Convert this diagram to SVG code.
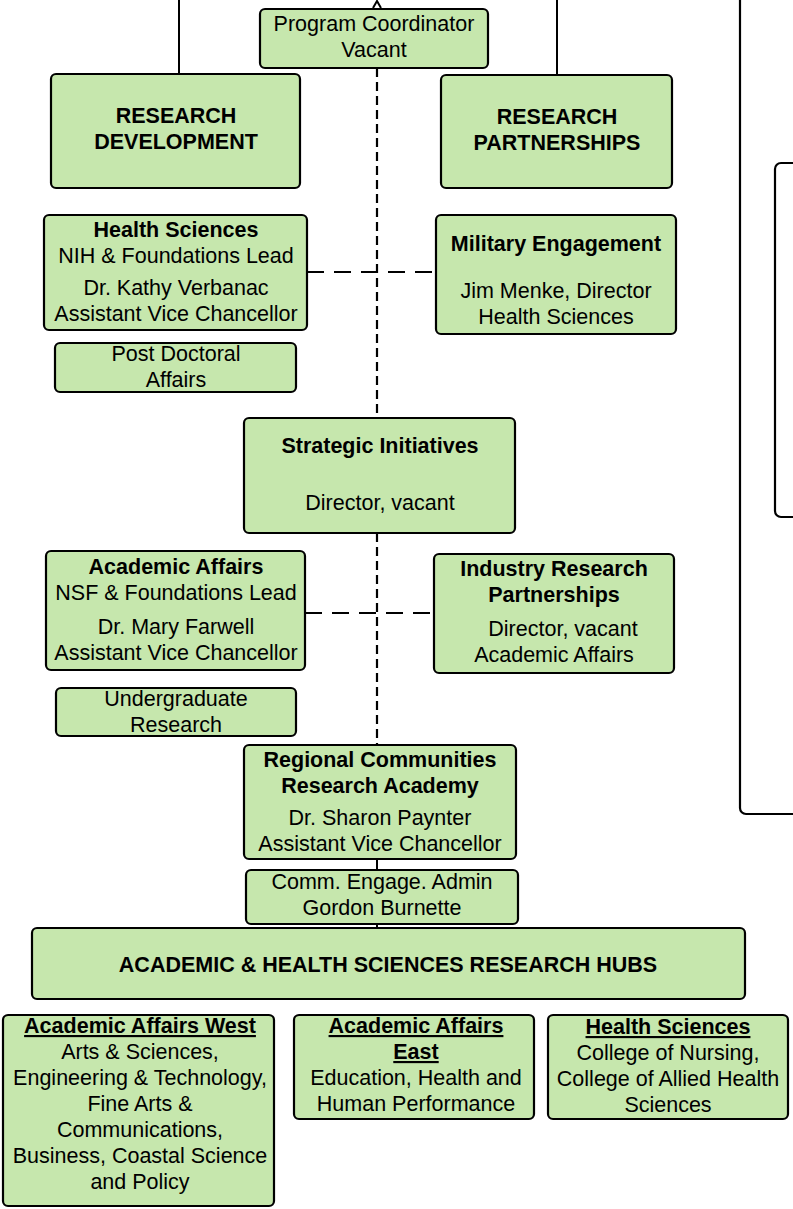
<svg xmlns="http://www.w3.org/2000/svg" width="793" height="1209" viewBox="0 0 793 1209">
<style>
.box{fill:#c6e7ad;stroke:#000;stroke-width:2.2}
.frame{fill:none;stroke:#000;stroke-width:2.2}
text{font-family:"Liberation Sans",Arial,sans-serif;font-size:21.5px;fill:#000;text-anchor:middle}
.b{font-weight:bold}
.u{font-weight:bold;text-decoration:underline}
.line{fill:none;stroke:#000;stroke-width:2}
.vdash{fill:none;stroke:#000;stroke-width:2.2;stroke-dasharray:9,5}
.hdash{fill:none;stroke:#000;stroke-width:2.2;stroke-dasharray:17,10}
</style>
<rect width="793" height="1209" fill="#fff"/>
<g id="connectors">
<line class="line" x1="179" y1="0" x2="179" y2="74"/>
<line class="line" x1="557" y1="0" x2="557" y2="75"/>
<polyline class="line" points="373,8 377,1 381,8"/>
<line class="vdash" x1="377" y1="68" x2="377" y2="418"/>
<line class="vdash" x1="377" y1="533" x2="377" y2="745"/>
<line class="line" x1="377" y1="859" x2="377" y2="870"/>
<line class="line" x1="377" y1="924" x2="377" y2="928"/>
<line class="hdash" x1="307" y1="272" x2="436" y2="272"/>
<line class="hdash" x1="305" y1="613" x2="434" y2="613"/>
</g>
<g id="frames">
<rect class="frame" x="740" y="-20" width="100" height="834" rx="6"/>
<rect class="frame" x="775" y="163" width="60" height="354" rx="6"/>
</g>
<g id="program-coordinator">
<rect class="box" x="260" y="9" width="228" height="59" rx="5"/>
<text x="374" y="31">Program Coordinator</text>
<text x="374" y="57">Vacant</text>
</g>
<g id="research-development">
<rect class="box" x="51" y="74" width="249" height="114" rx="5"/>
<text class="b" x="176" y="123">RESEARCH</text>
<text class="b" x="176" y="149">DEVELOPMENT</text>
</g>
<g id="research-partnerships">
<rect class="box" x="441" y="75" width="231" height="113" rx="5"/>
<text class="b" x="557" y="124">RESEARCH</text>
<text class="b" x="557" y="150">PARTNERSHIPS</text>
</g>
<g id="health-sciences">
<rect class="box" x="44" y="215" width="263" height="115" rx="5"/>
<text class="b" x="176" y="237">Health Sciences</text>
<text x="176" y="263">NIH &amp; Foundations Lead</text>
<text x="176" y="295">Dr. Kathy Verbanac</text>
<text x="176" y="321">Assistant Vice Chancellor</text>
</g>
<g id="post-doctoral">
<rect class="box" x="55" y="343" width="241" height="49" rx="5"/>
<text x="176" y="361">Post Doctoral</text>
<text x="176" y="387">Affairs</text>
</g>
<g id="military-engagement">
<rect class="box" x="436" y="215" width="240" height="119" rx="5"/>
<text class="b" x="556" y="251">Military Engagement</text>
<text x="556" y="298">Jim Menke, Director</text>
<text x="556" y="324">Health Sciences</text>
</g>
<g id="strategic-initiatives">
<rect class="box" x="244" y="418" width="271" height="115" rx="5"/>
<text class="b" x="380" y="453">Strategic Initiatives</text>
<text x="380" y="510">Director, vacant</text>
</g>
<g id="academic-affairs">
<rect class="box" x="46" y="551" width="259" height="119" rx="5"/>
<text class="b" x="176" y="574">Academic Affairs</text>
<text x="176" y="600">NSF &amp; Foundations Lead</text>
<text x="176" y="634">Dr. Mary Farwell</text>
<text x="176" y="660">Assistant Vice Chancellor</text>
</g>
<g id="undergraduate-research">
<rect class="box" x="56" y="688" width="240" height="48" rx="5"/>
<text x="176" y="706">Undergraduate</text>
<text x="176" y="732">Research</text>
</g>
<g id="industry-research">
<rect class="box" x="434" y="554" width="240" height="119" rx="5"/>
<text class="b" x="554" y="576">Industry Research</text>
<text class="b" x="554" y="602">Partnerships</text>
<text x="563" y="636">Director, vacant</text>
<text x="554" y="662">Academic Affairs</text>
</g>
<g id="regional-communities">
<rect class="box" x="244" y="745" width="272" height="114" rx="5"/>
<text class="b" x="380" y="767">Regional Communities</text>
<text class="b" x="380" y="793">Research Academy</text>
<text x="380" y="825">Dr. Sharon Paynter</text>
<text x="380" y="851">Assistant Vice Chancellor</text>
</g>
<g id="comm-engage">
<rect class="box" x="246" y="870" width="272" height="54" rx="5"/>
<text x="382" y="889">Comm. Engage. Admin</text>
<text x="382" y="915">Gordon Burnette</text>
</g>
<g id="research-hubs">
<rect class="box" x="32" y="928" width="713" height="71" rx="5"/>
<text class="b" x="388" y="972">ACADEMIC &amp; HEALTH SCIENCES RESEARCH HUBS</text>
</g>
<g id="aa-west">
<rect class="box" x="3" y="1015" width="271" height="191" rx="5"/>
<text class="u" x="140" y="1033">Academic Affairs West</text>
<text x="140" y="1059">Arts &amp; Sciences,</text>
<text x="140" y="1085">Engineering &amp; Technology,</text>
<text x="140" y="1111">Fine Arts &amp;</text>
<text x="140" y="1137">Communications,</text>
<text x="140" y="1163">Business, Coastal Science</text>
<text x="140" y="1189">and Policy</text>
</g>
<g id="aa-east">
<rect class="box" x="294" y="1015" width="240" height="104" rx="5"/>
<text class="u" x="416" y="1033">Academic Affairs</text>
<text class="u" x="416" y="1059">East</text>
<text x="416" y="1085">Education, Health and</text>
<text x="416" y="1111">Human Performance</text>
</g>
<g id="hs-hub">
<rect class="box" x="548" y="1015" width="240" height="104" rx="5"/>
<text class="u" x="668" y="1034">Health Sciences</text>
<text x="668" y="1060">College of Nursing,</text>
<text x="668" y="1086">College of Allied Health</text>
<text x="668" y="1112">Sciences</text>
</g>
</svg>
